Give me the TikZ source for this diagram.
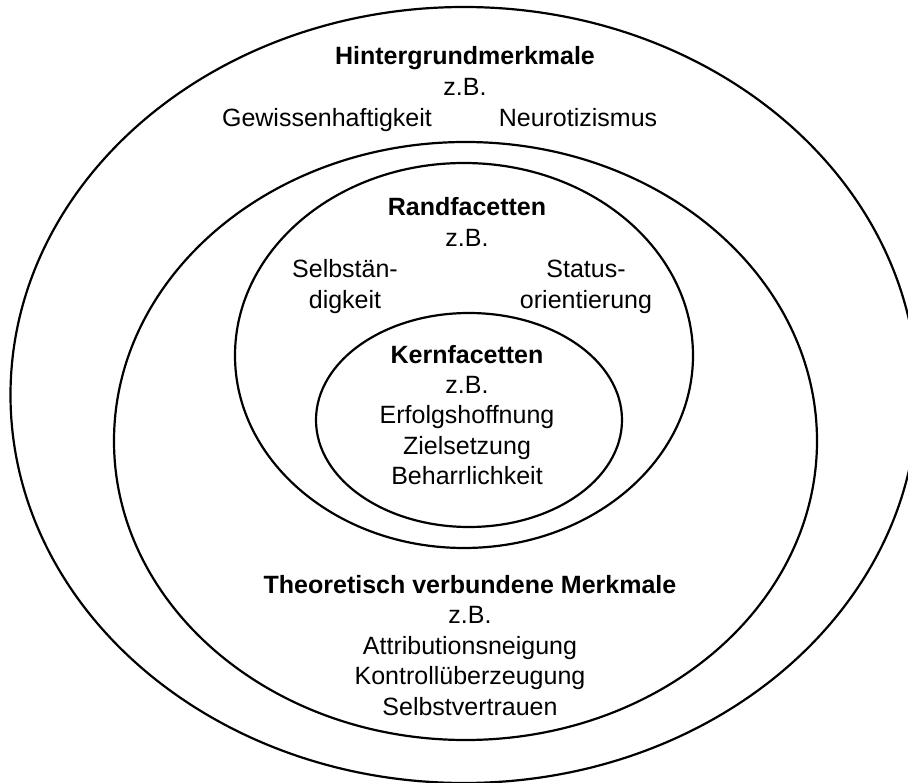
\documentclass[tikz,border=0pt]{standalone}
\usepackage{fontspec}
\setmainfont{Liberation Sans}
\usetikzlibrary{shapes.geometric}
\begin{document}
\begin{tikzpicture}[x=1pt,y=-1pt,
  ring/.style={ellipse, draw, line width=2.2pt, inner sep=0pt, outer sep=0pt},
  lbl/.style={align=center, font=\fontsize{25}{30.5}\selectfont, inner sep=0pt, anchor=base}]
\useasboundingbox (0,0) rectangle (908,783);
% rings
\node[ring, minimum width=907pt, minimum height=776pt] (outer) at (464,395) {};
\node[ring, minimum width=703pt, minimum height=598pt] (second) at (465.5,441) {};
\node[ring, minimum width=458pt, minimum height=385pt] (third) at (464,355.5) {};
\node[ring, minimum width=306pt, minimum height=214pt] (inner) at (469,420) {};
% outer ring texts (anchor base = baseline of the last line)
\node[lbl] (hgm) at (465,95.5) {\textbf{Hintergrundmerkmale}\\z.B.};
\node[lbl] (gew) at (327,127) {Gewissenhaftigkeit};
\node[lbl] (neu) at (578,127) {Neurotizismus};
% third ring texts
\node[lbl] (rf) at (467,246.5) {\textbf{Randfacetten}\\z.B.};
\node[lbl] (sel) at (345,308.5) {Selbstän-\\digkeit};
\node[lbl] (sta) at (586,308.5) {Status-\\orientierung};
% inner texts
\node[lbl] (kf) at (467,485) {\textbf{Kernfacetten}\\z.B.\\Erfolgshoffnung\\Zielsetzung\\Beharrlichkeit};
% second ring texts
\node[lbl] (tvm) at (470,715) {\textbf{Theoretisch verbundene Merkmale}\\z.B.\\Attributionsneigung\\Kontrollüberzeugung\\Selbstvertrauen};
\end{tikzpicture}
\end{document}
